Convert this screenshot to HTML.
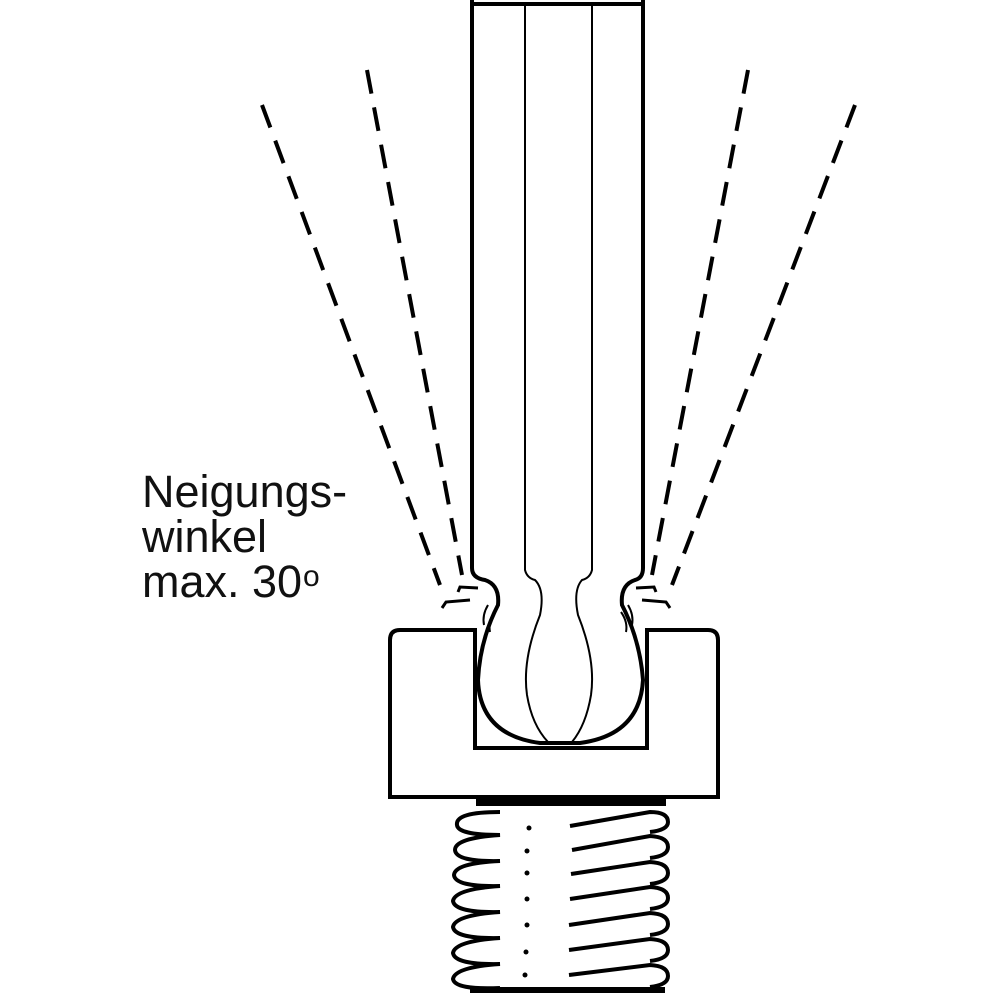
<!DOCTYPE html>
<html><head><meta charset="utf-8"><style>html,body{margin:0;padding:0;background:#fff}svg{display:block}</style></head>
<body>
<svg width="1000" height="1000" viewBox="0 0 1000 1000" xmlns="http://www.w3.org/2000/svg">
<g fill="none" stroke="#000" stroke-width="4" stroke-dasharray="24 14">
  <line x1="262" y1="105" x2="440" y2="585"/>
  <line x1="367" y1="70" x2="462" y2="575"/>
  <line x1="748" y1="70" x2="652" y2="575"/>
  <line x1="855" y1="105" x2="672" y2="585"/>
</g>
<g fill="none" stroke="#000" stroke-width="3">
  <path d="M442 608 L446 602 L470 600"/>
  <path d="M458 592 L460 587 L478 588"/>
  <path d="M670 608 L666 602 L642 600"/>
  <path d="M656 592 L654 587 L636 588"/>
</g>
<path d="M390 797 L390 640 Q390 630 400 630 L475 630 L475 748 L647 748 L647 630 L708 630 Q718 630 718 640 L718 797 Z" fill="#fff" stroke="#000" stroke-width="4"/>
<path d="M472 0 L472 568 Q472 578 485 580 Q500 585 498 605 Q480 640 478 680 Q480 735 540 743 L580 743 Q640 735 643 680 Q640 640 622 605 Q620 585 635 580 Q643 578 643 568 L643 0" fill="#fff" stroke="#000" stroke-width="4"/>
<path d="M472 4 L643 4" stroke="#000" stroke-width="4"/>
<g fill="none" stroke="#000" stroke-width="2">
  <path d="M525 4 L525 570 Q527 578 535 580 Q545 590 540 615 Q522 660 527 695 Q532 725 548 742"/>
  <path d="M592 4 L592 570 Q590 578 582 580 Q573 590 578 615 Q596 660 591 695 Q586 725 572 742"/>
</g>
<g fill="none" stroke="#000" stroke-width="2">
  <path d="M488 605 Q482 615 484 625"/><path d="M495 612 Q488 622 490 632"/>
  <path d="M628 605 Q634 615 632 625"/><path d="M621 612 Q628 622 626 632"/>
</g>
<rect x="476" y="797" width="190" height="9" fill="#000"/>
<g fill="none" stroke="#000" stroke-width="4">
  <path d="M500 812 Q455 812 457 825 Q458 835 500 835 Q455 838 455 850 Q456 862 500 861 Q455 863 454 875 Q455 887 500 886 Q455 889 453 901 Q455 913 500 912 Q455 915 453 927 Q455 939 500 938 Q455 941 453 953 Q455 965 500 964 Q455 967 453 979 Q455 990 500 988"/>
  <path d="M570 826 L650 812 Q668 812 668 822 Q668 830 650 832"/>
  <path d="M572 850 L650 836 Q668 837 668 847 Q668 856 650 858"/>
  <path d="M571 874 L650 862 Q668 863 668 873 Q668 882 650 884"/>
  <path d="M570 899 L650 887 Q668 888 668 898 Q668 907 650 909"/>
  <path d="M569 925 L650 913 Q668 914 668 924 Q668 933 650 935"/>
  <path d="M569 950 L650 939 Q668 940 668 950 Q668 959 650 961"/>
  <path d="M569 975 L650 965 Q668 966 668 976 Q668 985 650 987"/>
</g>
<rect x="470" y="987" width="195" height="6" fill="#000"/>
<g fill="#000">
  <circle cx="529" cy="828" r="2.5"/><circle cx="527" cy="851" r="2.5"/><circle cx="527" cy="873" r="2.5"/>
  <circle cx="527" cy="899" r="2.5"/><circle cx="527" cy="925" r="2.5"/><circle cx="526" cy="952" r="2.5"/><circle cx="525" cy="975" r="2.5"/>
</g>
<g font-family="Liberation Sans, sans-serif" font-size="45" fill="#111">
  <text x="142" y="507">Neigungs-</text>
  <text x="142" y="552">winkel</text>
  <text x="142" y="597">max. 30</text>
  <text x="303" y="586" font-size="30">o</text>
</g>
</svg>
</body></html>
